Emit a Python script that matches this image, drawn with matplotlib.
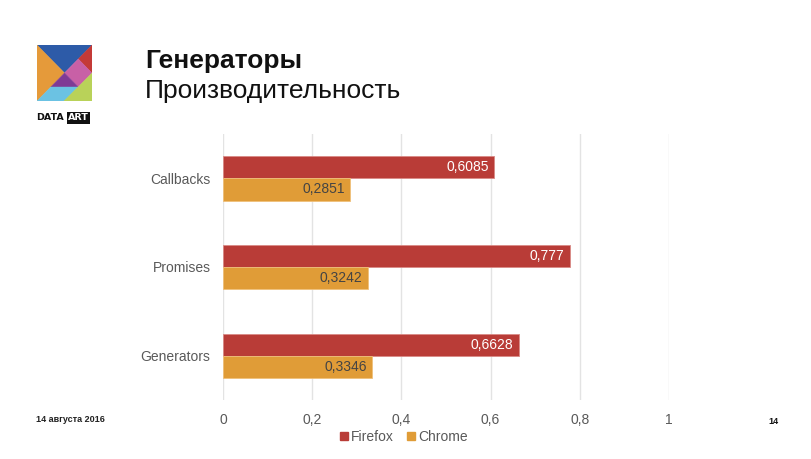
import numpy as np
import matplotlib
matplotlib.use('Agg')
import matplotlib.pyplot as plt
from matplotlib.patches import Polygon
from matplotlib.lines import Line2D

plt.rcParams['font.family'] = ['Liberation Sans', 'DejaVu Sans']

# Datos
categorias = ['Callbacks', 'Promises', 'Generators']
firefox = [0.6085, 0.777, 0.6628]
chrome = [0.2851, 0.3242, 0.3346]
etiquetas_ff = ['0,6085', '0,777', '0,6628']
etiquetas_ch = ['0,2851', '0,3242', '0,3346']
ticks_x = [0, 0.2, 0.4, 0.6, 0.8, 1.0]
ticks_txt = ['0', '0,2', '0,4', '0,6', '0,8', '1']

c_ff = '#B93C37'
c_ch = '#E09C37'
gris = '#595959'

W, H = 812, 459
fig = plt.figure(figsize=(W / 100, H / 100), dpi=100)
fig.patch.set_facecolor('white')

# Grafica principal
ax = fig.add_axes([223 / W, 1 - 400 / H, 446 / W, 266 / H])
y = np.arange(len(categorias))
h = 0.25
ax.barh(y - h / 2, firefox, height=h, color=c_ff, edgecolor='#d98a86', linewidth=0.6, zorder=3)
ax.barh(y + h / 2, chrome, height=h, color=c_ch, edgecolor='#f0c07a', linewidth=0.6, zorder=3)
for i in range(len(categorias)):
    ax.text(firefox[i] - 0.012, y[i] - h / 2, etiquetas_ff[i], ha='right', va='center',
            color='white', fontsize=10, zorder=4)
    ax.text(chrome[i] - 0.012, y[i] + h / 2, etiquetas_ch[i], ha='right', va='center',
            color='#444444', fontsize=10, zorder=4)

ax.set_xlim(0, 1)
ax.set_ylim(2.5, -0.5)
ax.set_xticks(ticks_x)
ax.set_xticklabels(ticks_txt, color=gris, fontsize=10)
ax.set_yticks(y)
ax.set_yticklabels(categorias, color=gris, fontsize=10)
ax.tick_params(axis='x', length=0, pad=9)
ax.tick_params(axis='y', length=0, pad=9)
for s in ax.spines.values():
    s.set_visible(False)
ax.grid(axis='x', color='#e3e3e3', linewidth=1, zorder=0)
ax.set_axisbelow(True)

# Leyenda
handles = [Line2D([], [], marker='s', linestyle='', color=c_ff, markersize=6),
           Line2D([], [], marker='s', linestyle='', color=c_ch, markersize=6)]
fig.legend(handles, ['Firefox', 'Chrome'], loc='center', bbox_to_anchor=(403 / W, 1 - 437 / H),
           ncol=2, frameon=False, fontsize=10, handletextpad=0.1, columnspacing=0.9,
           labelcolor=gris, handlelength=0.8)

# Titulos
fig.text(145 / W, 1 - 68 / H, 'Генераторы', fontsize=19, fontweight='bold', color='#111111',
         ha='left', va='baseline')
fig.text(145 / W, 1 - 98 / H, 'Производительность', fontsize=19, color='#111111',
         ha='left', va='baseline')

# Pie de pagina
fig.text(36 / W, 1 - 419 / H, '14 августа 2016', fontsize=6.5, fontweight='bold',
         color='#222222', ha='left', va='center')
fig.text(773 / W, 1 - 421 / H, '14', fontsize=6.5, fontweight='bold',
         color='#111111', ha='center', va='center')

# Logo
lg = fig.add_axes([37 / W, 1 - 101 / H, 55 / W, 56 / H])
piezas = [
    ([(0, 1), (1, 1), (0.5, 0.5)], '#2D5BA8'),
    ([(0, 1), (0, 0), (0.5, 0.5)], '#E59A3A'),
    ([(1, 1), (1, 0.5), (0.75, 0.75)], '#C43A37'),
    ([(0.75, 0.75), (1, 0.5), (0.75, 0.25), (0.5, 0.5)], '#C860A6'),
    ([(0.5, 0.5), (0.75, 0.25), (0.25, 0.25)], '#7F3A95'),
    ([(0, 0), (0.5, 0), (0.75, 0.25), (0.25, 0.25)], '#6BC2E3'),
    ([(0.5, 0), (1, 0), (1, 0.5)], '#B9D259'),
]
for pts, col in piezas:
    lg.add_patch(Polygon(pts, closed=True, facecolor=col, edgecolor=col, linewidth=0.3))
lg.set_xlim(0, 1)
lg.set_ylim(0, 1)
lg.axis('off')

fig.text(36 / W, 1 - 118 / H, 'DATA', fontsize=6.8, fontweight='heavy', color='#111111',
         ha='left', va='center', family='DejaVu Sans')
fig.text(68 / W, 1 - 118 / H, 'ART', fontsize=6.8, fontweight='heavy', color='white',
         ha='left', va='center', family='DejaVu Sans',
         bbox=dict(boxstyle='square,pad=0.12', facecolor='#111111', edgecolor='none'))

fig.savefig('out.png', dpi=100)
